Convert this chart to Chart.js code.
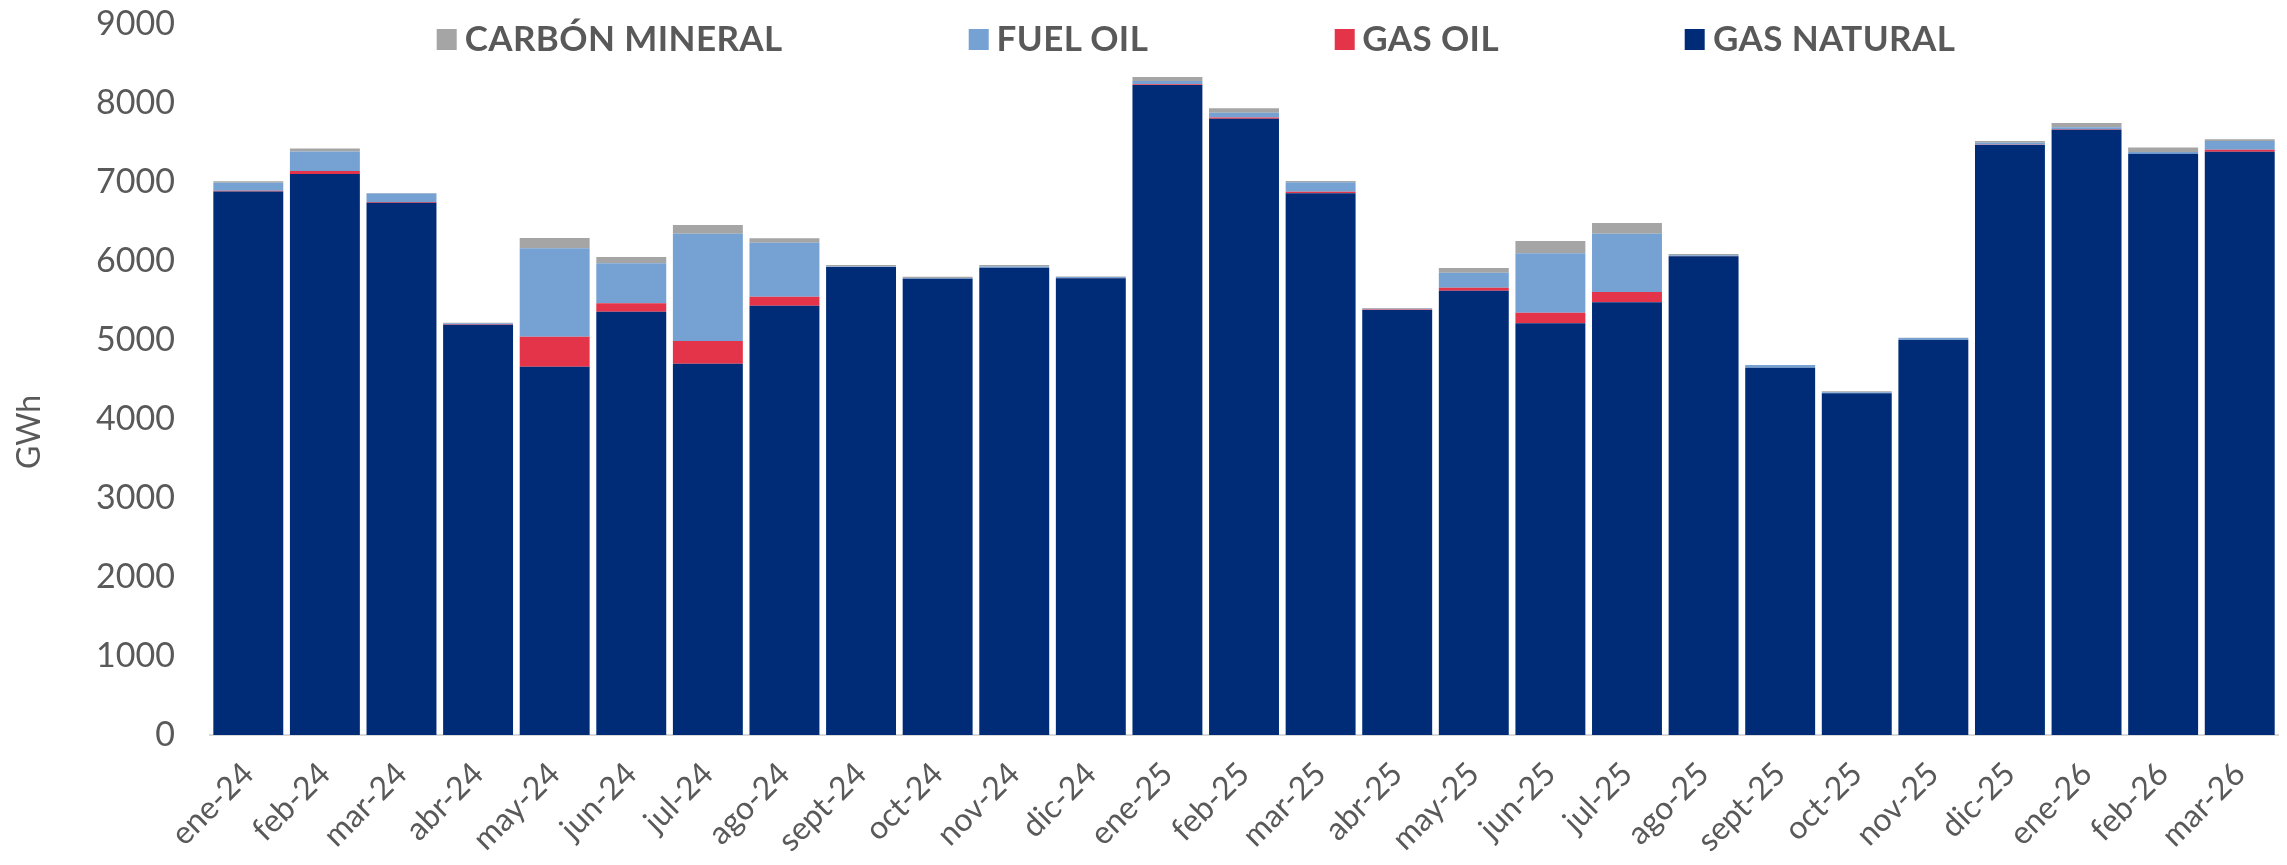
<!DOCTYPE html>
<html>
<head>
<meta charset="utf-8">
<script src="https://cdn.jsdelivr.net/npm/chart.js@4"></script>
<style>
  body { margin: 0; background: #fff; }
  .wrap { position: relative; width: 2287px; height: 865px; }
  .legend {
    position: absolute; top: 16px; left: 1196px; transform: translateX(-50%);
    display: flex; gap: 186px; white-space: nowrap;
    font-family: Lato, sans-serif; font-weight: 700; font-size: 35px; letter-spacing: 0.4px; color: #595959;
  }
  .legend__item { display: flex; align-items: center; }
  .legend__box { width: 20px; height: 21px; margin-right: 8px; margin-top: 5px; }
</style>
</head>
<body>
<div class="wrap">
  <canvas id="chart"></canvas>
  <div class="legend"></div>
</div>
<script>
const meses = ['ene-24', 'feb-24', 'mar-24', 'abr-24', 'may-24', 'jun-24', 'jul-24', 'ago-24', 'sept-24', 'oct-24', 'nov-24', 'dic-24',
  'ene-25', 'feb-25', 'mar-25', 'abr-25', 'may-25', 'jun-25', 'jul-25', 'ago-25', 'sept-25', 'oct-25', 'nov-25', 'dic-25',
  'ene-26', 'feb-26', 'mar-26'];

// GWh por combustible
const gasNatural = [6880, 7100, 6738, 5194, 4662, 5358, 4700, 5434, 5925, 5776, 5915, 5781, 8228, 7801, 6857, 5380, 5624, 5211, 5477, 6059, 4650, 4325, 5000, 7468, 7662, 7358, 7384];
const gasOil = [10, 40, 8, 5, 380, 106, 287, 114, 0, 0, 0, 3, 8, 17, 21, 5, 38, 135, 131, 5, 0, 0, 0, 5, 5, 0, 25];
const fuelOil = [100, 245, 110, 12, 1118, 506, 1359, 684, 5, 10, 14, 15, 42, 59, 118, 10, 190, 751, 738, 10, 34, 15, 25, 25, 25, 21, 110];
const carbonMineral = [20, 38, 5, 8, 131, 81, 110, 55, 20, 15, 20, 5, 51, 55, 17, 10, 59, 156, 135, 15, 0, 10, 4, 20, 55, 59, 21];

const yTicks = [0, 1000, 2000, 3000, 4000, 5000, 6000, 7000, 8000, 9000];

const textColor = '#595959';
const font = 'Lato, sans-serif';

const yTitle = {
  id: 'yTitle',
  afterDraw(chart) {
    const ctx = chart.ctx;
    ctx.save();
    ctx.translate(30, 432);
    ctx.rotate(-Math.PI / 2);
    ctx.font = '32px ' + font;
    ctx.fillStyle = textColor;
    ctx.textAlign = 'center';
    ctx.textBaseline = 'middle';
    ctx.fillText('GWh', 0, 0);
    ctx.restore();
  }
};

const data = {
  labels: meses,
  datasets: [
    { label: 'GAS NATURAL', data: gasNatural, backgroundColor: '#002C77' },
    { label: 'GAS OIL', data: gasOil, backgroundColor: '#E3344A' },
    { label: 'FUEL OIL', data: fuelOil, backgroundColor: '#76A1D3' },
    { label: 'CARBÓN MINERAL', data: carbonMineral, backgroundColor: '#A5A5A5' }
  ]
};

const config = {
  type: 'bar',
  data: data,
  options: {
    responsive: true,
    maintainAspectRatio: false,
    animation: false,
    layout: { padding: { top: 24, right: 6, bottom: 0, left: 0 } },
    datasets: { bar: { categoryPercentage: 1, barPercentage: 0.913, borderWidth: 0 } },
    plugins: {
      legend: { display: false },
      tooltip: { enabled: false }
    },
    scales: {
      x: {
        stacked: true,
        grid: { display: false, drawTicks: false },
        border: { display: true, color: '#D9D9D9', width: 2 },
        ticks: {
          autoSkip: false, maxRotation: 45, minRotation: 45, padding: 20,
          color: textColor, font: { family: font, size: 32 }
        },
        afterFit: scale => { scale.height = 130; }
      },
      y: {
        stacked: true,
        min: 0, max: 9000,
        grid: { display: false, drawTicks: false },
        border: { display: false },
        afterBuildTicks: scale => { scale.ticks = yTicks.map(v => ({ value: v })); },
        ticks: {
          padding: 35,
          color: textColor, font: { family: font, size: 34 },
          callback: v => String(v)
        },
        afterFit: scale => {
          scale.width = 210;
          scale.paddingTop = 0;
          scale.paddingBottom = 0;
        }
      }
    }
  },
  plugins: [yTitle]
};

const chart = new Chart(document.getElementById('chart'), config);

// leyenda en html, en el orden del original
const legendEl = document.querySelector('.legend');
let legendHtml = '';
data.datasets.slice().reverse().forEach(ds => {
  legendHtml += `
    <div class="legend__item"><span class="legend__box" style="background:${ds.backgroundColor}"></span>${ds.label}</div>
  `;
});
legendEl.innerHTML = legendHtml;
</script>
</body>
</html>
